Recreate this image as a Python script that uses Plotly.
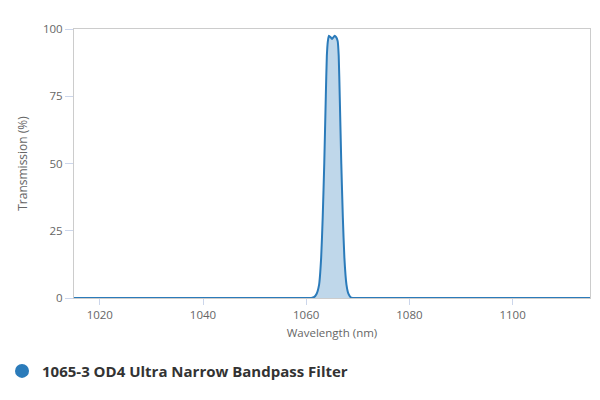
import plotly.graph_objects as go

series_name = "1065-3 OD4 Ultra Narrow Bandpass Filter"
wavelength = [1015, 1055, 1060, 1061, 1061.5, 1062, 1062.5, 1062.9, 1063.2, 1063.5,
              1063.8, 1064.0, 1064.2, 1064.4, 1064.7, 1065.0, 1065.3, 1065.5, 1065.8,
              1066.1, 1066.3, 1066.5, 1066.8, 1067.1, 1067.4, 1067.8, 1068.2, 1068.6,
              1069, 1075, 1115]
transmission = [0, 0, 0, 0.05, 0.3, 1.5, 5, 15, 30, 50,
                75, 90, 95.5, 97.5, 97, 96.3, 97, 97.5, 97,
                95.5, 90, 75, 50, 30, 15, 5, 1.5, 0.3,
                0.05, 0, 0]
x_ticks = [1020, 1040, 1060, 1080, 1100]
y_ticks = [0, 25, 50, 75, 100]

line_color = "#2b7bba"
fill_color = "rgba(43,123,186,0.3)"

fig = go.Figure()
fig.add_trace(go.Scatter(
    x=wavelength, y=transmission, mode="lines",
    line=dict(color=line_color, width=2, shape="spline", smoothing=0.5),
    fill="tozeroy", fillcolor=fill_color,
    showlegend=False, hoverinfo="x+y",
))
fig.add_trace(go.Scatter(
    x=[None], y=[None], mode="markers", name=series_name,
    marker=dict(color=line_color, size=14, symbol="circle"),
    showlegend=True,
))

fig.update_layout(
    width=592, height=392,
    margin=dict(l=66, r=10, t=21, b=102, autoexpand=False),
    plot_bgcolor="white", paper_bgcolor="white",
    font=dict(family="Open Sans, sans-serif", color="#666666", size=11),
    xaxis=dict(
        range=[1015, 1115], tickvals=x_ticks, showgrid=False, zeroline=False,
        showline=True, linecolor="#cccccc", linewidth=1, mirror=True,
        ticks="outside", ticklen=6, tickcolor="#ccd6eb",
        title=dict(text="Wavelength (nm)", font=dict(size=11.5, color="#666666"), standoff=8),
        tickfont=dict(size=11.5, color="#666666"),
    ),
    yaxis=dict(
        range=[0, 100], tickvals=y_ticks, showgrid=False, zeroline=False,
        showline=True, linecolor="#cccccc", linewidth=1, mirror=True,
        ticks="outside", ticklen=8, tickcolor="#ccd6eb",
        title=dict(text="Transmission (%)", font=dict(size=12, color="#666666"), standoff=12),
        tickfont=dict(size=11.5, color="#666666"),
    ),
    legend=dict(
        x=-0.1395, y=-0.272, xanchor="left", yanchor="middle",
        orientation="h", itemwidth=30,
        font=dict(family="Open Sans, sans-serif", size=15, color="#333333", weight="bold"),
        bgcolor="rgba(0,0,0,0)",
    ),
)

fig.write_html("out.html")
